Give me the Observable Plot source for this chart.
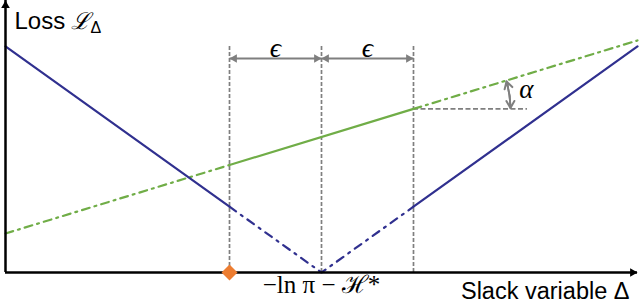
<!DOCTYPE html>
<html><head><meta charset="utf-8">
<script src="https://cdn.jsdelivr.net/npm/d3@7"></script>
<script src="https://cdn.jsdelivr.net/npm/@observablehq/plot@0.6"></script>
<style>body{margin:0;background:#fff}</style>
</head><body><div id="chart"></div>
<script>
// ---- data (units: epsilon = 1, vertex at -ln(pi) - H* = 0) ----
const xDomain = [-3.435, 3.435];
const yDomain = [0, 2.9565];
const blueX = [-3.435, -1, 0, 1, 3.435];
const blueY = [2.457, 0.715, 0, 0.715, 2.457];
const greenX = [-3.435, -1, 1, 3.435];
const greenY = [0.424, 1.168, 1.778, 2.522];
const guideX = [-1, 0, 1];          // vertical dashed guides
const guideTop = 2.457;
const epsArrowY = 2.326;
const epsLabels = ["ϵ", "ϵ"];
const epsLabelX = [-0.5, 0.5];
const epsLabelY = 2.34;
const hLineEnd = 2.239;              // end of horizontal dashed reference line
const alphaRadius = 1.054;
const alphaLabel = "α";
const alphaLabelPos = [2.228, 1.902];
const markerX = [-1];                // orange diamond
const xLabel = "Slack variable Δ";
const yLabelWord = "Loss";
const yLabelSym = "ℒ";
const yLabelSub = "Δ";
const vertexLabel = "−ln π − ℋ*";

const BLUE = "#30308f", GREEN = "#70ad47", ORANGE = "#ed7d31", GRAY = "#7f7f7f";

const bluePts = blueX.map((x, i) => ({x, y: blueY[i]}));
const greenPts = greenX.map((x, i) => ({x, y: greenY[i]}));
const blueSolidL = bluePts.slice(0, 2), blueSolidR = bluePts.slice(3, 5), blueDash = bluePts.slice(1, 4);
const greenSolid = greenPts.slice(1, 3), greenDashL = greenPts.slice(0, 2), greenDashR = greenPts.slice(2, 4);

const epsArrows = [{x1: guideX[0], x2: guideX[1]}, {x1: guideX[1], x2: guideX[2]}];
const headsLeft = epsArrows.map(d => ({x: d.x1, y: epsArrowY}));
const headsRight = epsArrows.map(d => ({x: d.x2, y: epsArrowY}));

const slope = (greenY[3] - greenY[0]) / (greenX[3] - greenX[0]);
const alphaAng = Math.atan(slope);
const cx = guideX[2], cy = greenY[2];
const arcBottom = {x: cx + alphaRadius, y: cy};
const arcTop = {x: cx + alphaRadius * Math.cos(alphaAng), y: cy + alphaRadius * Math.sin(alphaAng)};
const bendDeg = alphaAng * 180 / Math.PI / 2;

const sans = "Liberation Sans, Arial, Helvetica, sans-serif";
const serif = "Liberation Serif, DejaVu Serif, Times New Roman, serif";

const chart = Plot.plot({
  width: 640, height: 302,
  x: {domain: xDomain, range: [5, 637], axis: null},
  y: {domain: yDomain, range: [272, 0], axis: null},
  style: {background: "white", overflow: "visible"},
  marks: [
    // guides
    Plot.ruleX(guideX, {y1: 0, y2: guideTop, stroke: GRAY, strokeWidth: 1.7, strokeDasharray: "4,2"}),
    Plot.ruleY([greenY[2]], {x1: guideX[2], x2: hLineEnd, stroke: GRAY, strokeWidth: 1.9, strokeDasharray: "5,2.5"}),
    // epsilon arrows
    Plot.link(epsArrows, {x1: "x1", x2: "x2", y1: epsArrowY, y2: epsArrowY, stroke: GRAY, strokeWidth: 2}),
    Plot.dot(headsLeft, {x: "x", y: "y", symbol: "triangle", r: 3.2, rotate: -90, dx: 4.9, fill: GRAY, stroke: "none"}),
    Plot.dot(headsRight, {x: "x", y: "y", symbol: "triangle", r: 3.2, rotate: 90, dx: -4.9, fill: GRAY, stroke: "none"}),
    Plot.text(epsLabels, {x: (d, i) => epsLabelX[i], y: epsLabelY, text: d => d, fontSize: 28, fontFamily: serif, fontStyle: "italic", lineAnchor: "bottom", fill: "black"}),
    // alpha angle arc (double headed)
    Plot.arrow([{a: arcBottom, b: arcTop}], {x1: d => d.a.x, y1: d => d.a.y, x2: d => d.b.x, y2: d => d.b.y, bend: -bendDeg, stroke: GRAY, strokeWidth: 2, headLength: 6, inset: 1}),
    Plot.arrow([{a: arcTop, b: arcBottom}], {x1: d => d.a.x, y1: d => d.a.y, x2: d => d.b.x, y2: d => d.b.y, bend: bendDeg, stroke: GRAY, strokeWidth: 2, headLength: 6, inset: 1}),
    Plot.text([alphaLabel], {x: alphaLabelPos[0], y: alphaLabelPos[1], text: d => d, fontSize: 27, fontFamily: serif, fontStyle: "italic", lineAnchor: "bottom", fill: "black"}),
    // green line
    Plot.line(greenDashL, {x: "x", y: "y", stroke: GREEN, strokeWidth: 2.2, strokeDasharray: "8,5,2,5"}),
    Plot.line(greenDashR, {x: "x", y: "y", stroke: GREEN, strokeWidth: 2.2, strokeDasharray: "8,5,2,5"}),
    Plot.line(greenSolid, {x: "x", y: "y", stroke: GREEN, strokeWidth: 2.2}),
    // blue V
    Plot.line(blueSolidL, {x: "x", y: "y", stroke: BLUE, strokeWidth: 2.2}),
    Plot.line(blueSolidR, {x: "x", y: "y", stroke: BLUE, strokeWidth: 2.2}),
    Plot.line(blueDash, {x: "x", y: "y", stroke: BLUE, strokeWidth: 2.2, strokeDasharray: "8,6,2,6"}),
    // axes
    Plot.ruleY([0], {x1: xDomain[0], x2: xDomain[1], stroke: "black", strokeWidth: 2.5}),
    Plot.ruleX([xDomain[0]], {y1: 0, y2: yDomain[1], stroke: "black", strokeWidth: 2.5}),
    Plot.dot([{x: xDomain[1], y: 0}], {x: "x", y: "y", symbol: "triangle", r: 3.2, rotate: 90, dx: -4.9, fill: "black", stroke: "none"}),
    Plot.dot([{x: xDomain[0], y: yDomain[1]}], {x: "x", y: "y", symbol: "triangle", r: 3.2, dy: 4.9, fill: "black", stroke: "none"}),
    // marker
    Plot.dot(markerX, {x: d => d, y: 0, symbol: "diamond2", r: 7.2, fill: ORANGE, stroke: "none"}),
    // axis labels
    Plot.text([xLabel], {x: 3.348, y: -0.283, text: d => d, textAnchor: "end", lineAnchor: "bottom", fontSize: 23.5, fontFamily: sans, fill: "black"}),
    Plot.text([yLabelWord], {x: -3.337, y: 2.652, text: d => d, textAnchor: "start", lineAnchor: "bottom", fontSize: 24, fontFamily: sans, fill: "black"}),
    Plot.text([yLabelSym], {x: -2.72, y: 2.652, text: d => d, textAnchor: "start", lineAnchor: "bottom", fontSize: 23, fontFamily: serif, fontStyle: "italic", fill: "black"}),
    Plot.text([yLabelSub], {x: -2.51, y: 2.60, text: d => d, textAnchor: "start", lineAnchor: "bottom", fontSize: 16, fontFamily: sans, fill: "black"}),
    Plot.text([vertexLabel], {x: 0, y: -0.228, text: d => d, textAnchor: "middle", lineAnchor: "bottom", fontSize: 25, fontFamily: serif, fill: "black"})
  ]
});
document.getElementById("chart").append(chart);
</script>
</body></html>
